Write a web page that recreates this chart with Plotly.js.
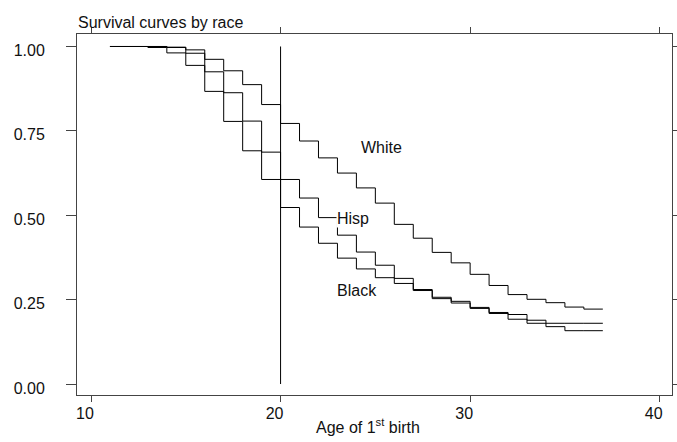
<!DOCTYPE html>
<html>
<head>
<meta charset="utf-8">
<script src="https://cdn.plot.ly/plotly-3.0.1.min.js"></script>
<style>html,body{margin:0;padding:0;background:#fff;}#chart{width:677px;height:442px;}</style>
</head>
<body>
<div id="chart"></div>
<script>
var ages = [11,12,13,14,15,16,17,18,19,20,21,22,23,24,25,26,27,28,29,30,31,32,33,34,35,36,37];
var white = [1.000,1.000,1.000,0.998,0.990,0.962,0.928,0.887,0.828,0.772,0.720,0.670,0.625,0.581,0.536,0.473,0.432,0.390,0.359,0.325,0.292,0.265,0.251,0.241,0.228,0.222,0.222];
var hisp  = [1.000,1.000,1.000,0.997,0.980,0.925,0.863,0.779,0.687,0.606,0.551,0.493,0.441,0.391,0.352,0.313,0.280,0.257,0.245,0.227,0.212,0.206,0.189,0.170,0.158,0.158,0.158];
var black = [1.000,1.000,0.997,0.981,0.944,0.867,0.778,0.691,0.606,0.523,0.465,0.417,0.373,0.341,0.315,0.298,0.277,0.253,0.240,0.224,0.209,0.192,0.180,0.180,0.180,0.180,0.180];
var refX = [20,20];
var refY = [0,1];
var xTicks = [10,20,30,40];
var yTicks = [0,0.25,0.5,0.75,1];
var yTickText = ["0.00","0.25","0.50","0.75","1.00"];
var labelNames = ["White","Hisp","Black"];
var labelX = [25.33,23.84,24.02];
var labelY = [0.702,0.490,0.276];

var font = "Liberation Sans, Arial, Helvetica, sans-serif";
function stepTrace(y){
  return {x:ages, y:y, type:"scatter", mode:"lines", line:{shape:"hv", color:"#000", width:1}, hoverinfo:"skip", showlegend:false};
}
var traces = [stepTrace(white), stepTrace(hisp), stepTrace(black),
  {x:refX, y:refY, type:"scatter", mode:"lines", line:{color:"#000", width:1}, showlegend:false, hoverinfo:"skip"}];

var anns = [];
for (var i=0;i<labelNames.length;i++){
  anns.push({x:labelX[i], y:labelY[i], xref:"x", yref:"y", text:labelNames[i], showarrow:false,
    font:{family:font, size:16, color:"#111"}, bgcolor: labelNames[i]==="Hisp" ? "#fff" : "rgba(0,0,0,0)", borderpad:0});
}
anns.push({x:0, xref:"paper", xanchor:"left", y:1.032, yref:"paper", yanchor:"middle", text:"Survival curves by race", showarrow:false, font:{family:font,size:16,color:"#111"}, borderpad:0});
anns.push({x:0.4887, xref:"paper", xanchor:"center", y:-0.086, yref:"paper", yanchor:"middle", text:"Age of 1<sup>st</sup> birth", showarrow:false, font:{family:font,size:16,color:"#111"}, borderpad:0});

var layout = {
  width:677, height:442,
  margin:{l:77, r:5, t:33.5, b:47, pad:0},
  paper_bgcolor:"#fff", plot_bgcolor:"#fff",
  showlegend:false,
  font:{family:font, size:16, color:"#111"},
  xaxis:{range:[9.261,40.649], tickvals:xTicks, ticktext:xTicks.map(String), ticks:"outside", ticklen:6, tickcolor:"#444", tickwidth:1,
    showline:true, linecolor:"#444", linewidth:1, mirror:"ticks", showgrid:false, zeroline:false,
    tickfont:{family:font,size:16,color:"#111"}, ticklabelstandoff:-2, ticklabelshift:-6},
  yaxis:{range:[-0.0325,1.037], tickvals:yTicks, ticktext:yTickText, ticks:"outside", ticklen:10, tickcolor:"#444", tickwidth:1,
    showline:true, linecolor:"#444", linewidth:1, mirror:"ticks", showgrid:false, zeroline:false,
    tickfont:{family:font,size:16,color:"#111"}, ticklabelstandoff:18, ticklabelshift:4},
  annotations:anns
};
Plotly.newPlot("chart", traces, layout, {staticPlot:true, displayModeBar:false});
</script>
</body>
</html>
